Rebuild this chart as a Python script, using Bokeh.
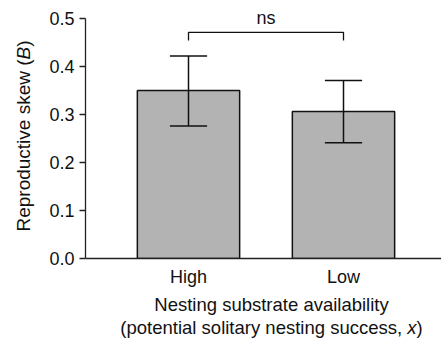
import math
from bokeh.plotting import figure
from bokeh.layouts import row, column
from bokeh.models import Range1d, FixedTicker, Label, ColumnDataSource, PrintfTickFormatter
from bokeh.core.properties import value
from bokeh.embed import file_html
from bokeh.resources import INLINE

# ---- data ----
categories = ["High", "Low"]
x_pos = [1, 2]
skew_mean = [0.350, 0.306]
err_low = [0.276, 0.241]
err_high = [0.422, 0.371]
y_ticks = [0.0, 0.1, 0.2, 0.3, 0.4, 0.5]
sig_label = "ns"
y_label_parts = ["Reproductive skew (", "B", ")"]
x_label_line1 = "Nesting substrate availability"
x_label_line2_parts = ["(potential solitary nesting success,", "x", ")"]

FONT = "Liberation Sans"
TICK_SIZE = 18
XLAB_SIZE = 18.5
YLAB_SIZE = 19
INK = "#111111"

# Arial-compatible advance widths (per em) used to place mixed italic pieces
W = {" ": .278, "(": .333, ")": .333, ",": .278, "B": .667, "R": .722, "a": .556,
     "c": .5, "d": .556, "e": .556, "g": .556, "i": .222, "k": .5, "l": .222,
     "n": .556, "o": .556, "p": .556, "r": .333, "s": .5, "t": .278, "u": .556,
     "v": .5, "w": .722, "x": .5, "y": .5}


def tw(s, size):
    return sum(W.get(c, .556) for c in s) * size


# ---- layout (canvas pixels) ----
FIG_W, FIG_H = 441, 338
YLAB_W = 40                 # strip holding the rotated y title
MAIN_W = FIG_W - YLAB_W
AXIS_X = 85                 # canvas x of the y axis
FRAME_TOP = 10
FRAME_BOTTOM = 258          # canvas y of value 0
XTICK_H = 35                # room for the category labels
MAIN_H = FRAME_BOTTOM + XTICK_H
XLAB_H = FIG_H - MAIN_H

px_x = 155.0   # pixels per category unit
px_y = 480.0   # pixels per unit of skew
frame_w = FIG_W - AXIS_X
frame_h = FRAME_BOTTOM - FRAME_TOP
x_start = x_pos[0] - (188 - AXIS_X) / px_x
x_end = x_start + frame_w / px_x
y_end = frame_h / px_y

p = figure(width=MAIN_W, height=MAIN_H, output_backend="svg", toolbar_location=None,
           x_range=Range1d(x_start, x_end), y_range=Range1d(0, y_end),
           min_border_left=AXIS_X - YLAB_W, min_border_right=0, min_border_top=FRAME_TOP,
           min_border_bottom=XTICK_H)
p.outline_line_color = None
p.xgrid.visible = False
p.ygrid.visible = False
p.background_fill_color = "white"
p.border_fill_color = "white"

src = ColumnDataSource(dict(x=x_pos, top=skew_mean, lo=err_low, hi=err_high,
                            cap_l=[v - 0.12 for v in x_pos], cap_r=[v + 0.12 for v in x_pos]))

p.vbar(x="x", top="top", width=0.66, bottom=0, source=src,
       fill_color="#b3b3b3", line_color=INK, line_width=1.5)
p.segment(x0="x", y0="lo", x1="x", y1="hi", source=src, line_color=INK, line_width=1.5)
p.segment(x0="cap_l", y0="hi", x1="cap_r", y1="hi", source=src, line_color=INK, line_width=1.5)
p.segment(x0="cap_l", y0="lo", x1="cap_r", y1="lo", source=src, line_color=INK, line_width=1.5)

# significance bracket
bracket_top = 0.471
bracket_arm = 0.454
p.line(x=[x_pos[0], x_pos[0], x_pos[1], x_pos[1]],
       y=[bracket_arm, bracket_top, bracket_top, bracket_arm],
       line_color=INK, line_width=1.3)
p.add_layout(Label(x=(x_pos[0] + x_pos[1]) / 2, y=0.502, text=sig_label,
                   text_align="center", text_baseline="middle",
                   text_font=FONT, text_font_size=f"{TICK_SIZE}px", text_color=INK))

# axes
for ax in (p.xaxis[0], p.yaxis[0]):
    ax.axis_line_color = "#222222"
    ax.axis_line_width = 1.3
    ax.major_label_text_font = FONT
    ax.major_label_text_font_size = f"{TICK_SIZE}px"
    ax.major_label_text_color = INK
    ax.minor_tick_line_color = None
    ax.major_tick_line_color = "#222222"
    ax.major_tick_line_width = 1.3

p.yaxis.ticker = FixedTicker(ticks=y_ticks)
p.yaxis.formatter = PrintfTickFormatter(format="%.1f")
p.yaxis.bounds = (y_ticks[0], y_ticks[-1])
p.yaxis.major_tick_out = 6
p.yaxis.major_tick_in = 0
p.yaxis.major_label_standoff = 5

p.xaxis.ticker = FixedTicker(ticks=x_pos)
p.xaxis.major_label_overrides = {x: c for x, c in zip(x_pos, categories)}
p.xaxis.major_tick_out = 0
p.xaxis.major_tick_in = 0
p.xaxis.major_label_standoff = 8


def text_strip(w, h, xr, yr, left=0):
    f = figure(width=w, height=h, output_backend="svg", toolbar_location=None,
               x_range=xr, y_range=yr, min_border=0, min_border_left=left,
               min_border_right=0, min_border_top=0, min_border_bottom=0)
    f.axis.visible = False
    f.grid.visible = False
    f.outline_line_color = None
    f.background_fill_color = "white"
    f.border_fill_color = "white"
    return f


def put(f, x, y, text, size, italic=False, align="left", angle=0.0):
    f.text(x=[x], y=[y], text=[text], angle=angle, text_align=align,
           text_baseline="middle", text_font=value(FONT),
           text_font_size=f"{size}px",
           text_font_style="italic" if italic else "normal", text_color=INK)


# x-axis title strip (below main plot): coordinates are canvas pixels
xs = text_strip(MAIN_W, XLAB_H, Range1d(AXIS_X, FIG_W), Range1d(FIG_H, MAIN_H),
                left=AXIS_X - YLAB_W)
cx = 271
S = XLAB_SIZE
put(xs, cx, 304, x_label_line1, S, align="center")
a, b, c = x_label_line2_parts
total = tw(a, S) + tw(" ", S) + tw(b, S) + tw(c, S)
left = cx - total / 2
y2 = 327
put(xs, left, y2, a, S)
xb = left + tw(a, S) + tw(" ", S)
put(xs, xb, y2, b, S, italic=True)
put(xs, xb + tw(b, S), y2, c, S)

# y-axis title strip (left): rotated, italic B; coordinates are canvas pixels
ys = text_strip(YLAB_W, FIG_H, Range1d(0, YLAB_W), Range1d(FIG_H, 0))
ya, yb, yc = y_label_parts
S = YLAB_SIZE
ytot = tw(ya, S) + tw(yb, S) + tw(yc, S)
ycen = 135.5
xl = 22.5
y0 = ycen + ytot / 2
put(ys, xl, y0, ya, S, angle=math.pi / 2)
put(ys, xl, y0 - tw(ya, S), yb, S, italic=True, angle=math.pi / 2)
put(ys, xl, y0 - tw(ya, S) - tw(yb, S), yc, S, angle=math.pi / 2)

layout = row(ys, column(p, xs, spacing=0), spacing=0)
open("out.html", "w").write(file_html(layout, INLINE))
